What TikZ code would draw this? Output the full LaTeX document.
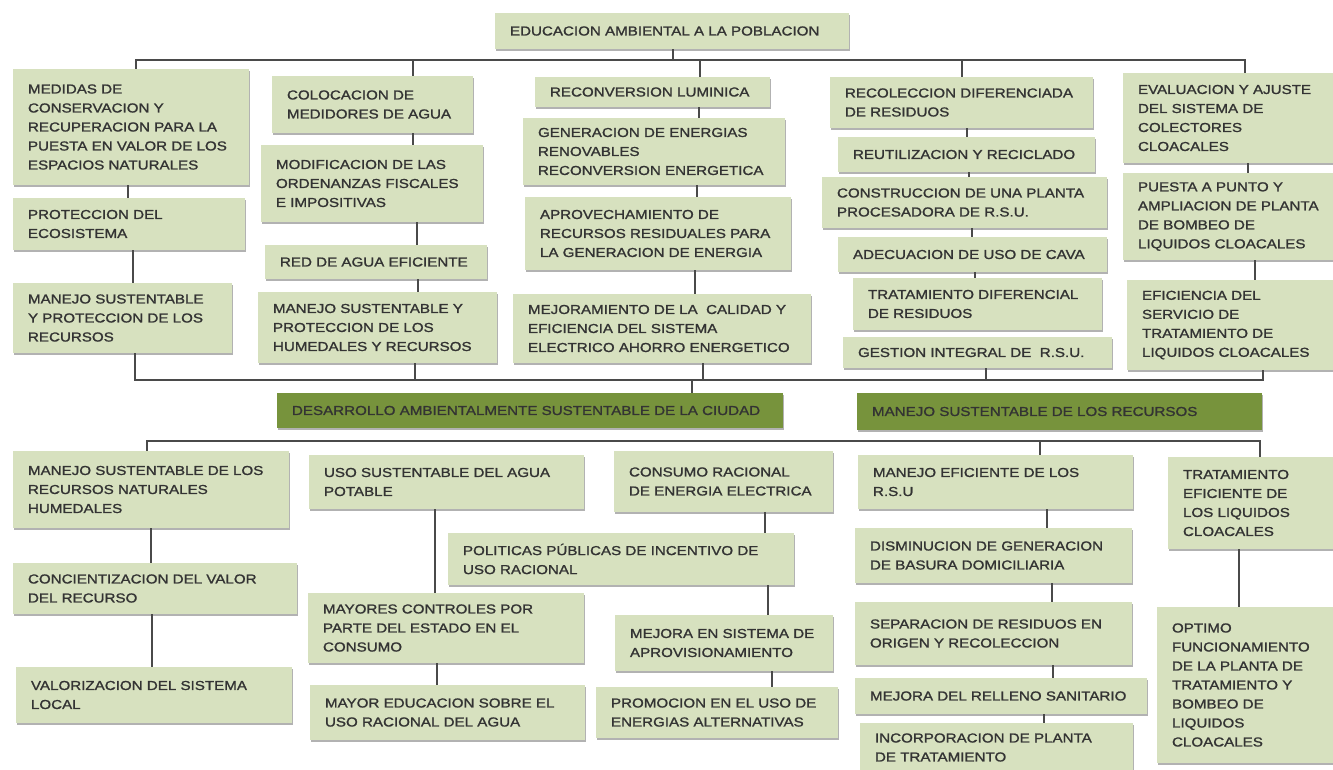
\documentclass[tikz,border=0pt]{standalone}
\usepackage{fontspec}
\setmainfont{Liberation Sans}[FakeStretch=1.165,FakeBold=1.3]
\usetikzlibrary{fit,shadows}
\definecolor{boxg}{HTML}{D7E1BF}
\definecolor{darkg}{HTML}{77933C}
\definecolor{txtc}{HTML}{333333}
\definecolor{linec}{HTML}{4A4A4A}
\tikzset{
  shad/.style={drop shadow={shadow xshift=0.8pt, shadow yshift=-1.6pt, fill=black!55, opacity=0.55}},
  lbox/.style={fill=boxg, draw=none, inner sep=0pt, shad},
  dbox/.style={fill=darkg, draw=none, inner sep=0pt, shad},
  txt/.style={anchor=west, inner sep=0pt, align=left, text=txtc, font=\fontsize{9.75}{14.25}\selectfont},
  conn/.style={draw=linec, line width=1.6pt},
}
\newcommand\gbx[7]{\node[#2, fit={(#3,#4) (#5,#6)}] (#1) {};
  \node[txt] at ([xshift=11.25pt]#1.west) {#7};}
\begin{document}
\begin{tikzpicture}[x=0.75pt,y=-0.75pt]
\useasboundingbox (0,0) rectangle (1333,769);
\clip (0,0) rectangle (1333,769);
\fill[white] (0,0) rectangle (1333,769);
% ---------- upper part
\gbx{top}{lbox}{495}{13}{849}{49}{EDUCACION AMBIENTAL A LA POBLACION}
\gbx{c1a}{lbox}{13}{69}{249}{185}{MEDIDAS DE\\CONSERVACION Y\\RECUPERACION PARA LA\\PUESTA EN VALOR DE LOS\\ESPACIOS NATURALES}
\gbx{c1b}{lbox}{13}{198}{245}{250}{PROTECCION DEL\\ECOSISTEMA}
\gbx{c1c}{lbox}{13}{283}{232}{353}{MANEJO SUSTENTABLE\\Y PROTECCION DE LOS\\RECURSOS}
\gbx{c2a}{lbox}{272}{76}{473}{133}{COLOCACION DE\\MEDIDORES DE AGUA}
\gbx{c2b}{lbox}{261}{145}{483}{222}{MODIFICACION DE LAS\\ORDENANZAS FISCALES\\E IMPOSITIVAS}
\gbx{c2c}{lbox}{265}{245}{487}{279}{RED DE AGUA EFICIENTE}
\gbx{c2d}{lbox}{258}{292}{497}{363}{MANEJO SUSTENTABLE Y\\PROTECCION DE LOS\\HUMEDALES Y RECURSOS}
\gbx{c3a}{lbox}{535}{77}{770}{107}{RECONVERSION LUMINICA}
\gbx{c3b}{lbox}{523}{118}{785}{185}{GENERACION DE ENERGIAS\\RENOVABLES\\RECONVERSION ENERGETICA}
\gbx{c3c}{lbox}{525}{197}{791}{270}{APROVECHAMIENTO DE\\RECURSOS RESIDUALES PARA\\LA GENERACION DE ENERGIA}
\gbx{c3d}{lbox}{513}{294}{811}{363}{MEJORAMIENTO DE LA\ \ CALIDAD Y\\EFICIENCIA DEL SISTEMA\\ELECTRICO AHORRO ENERGETICO}
\gbx{c4a}{lbox}{830}{77}{1093}{128}{RECOLECCION DIFERENCIADA\\DE RESIDUOS}
\gbx{c4b}{lbox}{838}{137}{1095}{172}{REUTILIZACION Y RECICLADO}
\gbx{c4c}{lbox}{822}{177}{1107}{228}{CONSTRUCCION DE UNA PLANTA\\PROCESADORA DE R.S.U.}
\gbx{c4d}{lbox}{838}{237}{1107}{272}{ADECUACION DE USO DE CAVA}
\gbx{c4e}{lbox}{853}{278}{1102}{330}{TRATAMIENTO DIFERENCIAL\\DE RESIDUOS}
\gbx{c4f}{lbox}{843}{337}{1112}{368}{GESTION INTEGRAL DE\ \ R.S.U.}
\gbx{c5a}{lbox}{1123}{73}{1333}{163}{EVALUACION Y AJUSTE\\DEL SISTEMA DE\\COLECTORES\\CLOACALES}
\gbx{c5b}{lbox}{1123}{173}{1333}{260}{PUESTA A PUNTO Y\\AMPLIACION DE PLANTA\\DE BOMBEO DE\\LIQUIDOS CLOACALES}
\gbx{c5c}{lbox}{1127}{280}{1333}{370}{EFICIENCIA DEL\\SERVICIO DE\\TRATAMIENTO DE\\LIQUIDOS CLOACALES}
% ---------- green bars
\gbx{g1}{dbox}{277}{393}{783}{428}{DESARROLLO AMBIENTALMENTE SUSTENTABLE DE LA CIUDAD}
\gbx{g2}{dbox}{857}{393}{1262}{430}{MANEJO SUSTENTABLE DE LOS RECURSOS}
% ---------- lower part
\gbx{d1a}{lbox}{13}{451}{289}{528}{MANEJO SUSTENTABLE DE LOS\\RECURSOS NATURALES\\HUMEDALES}
\gbx{d1b}{lbox}{13}{563}{297}{614}{CONCIENTIZACION DEL VALOR\\DEL RECURSO}
\gbx{d1c}{lbox}{16}{667}{292}{723}{VALORIZACION DEL SISTEMA\\LOCAL}
\gbx{d2a}{lbox}{309}{455}{584}{509}{USO SUSTENTABLE DEL AGUA\\POTABLE}
\gbx{d2b}{lbox}{308}{593}{584}{663}{MAYORES CONTROLES POR\\PARTE DEL ESTADO EN EL\\CONSUMO}
\gbx{d2c}{lbox}{310}{685}{585}{740}{MAYOR EDUCACION SOBRE EL\\USO RACIONAL DEL AGUA}
\gbx{d3a}{lbox}{614}{451}{833}{512}{CONSUMO RACIONAL\\DE ENERGIA ELECTRICA}
\gbx{d3b}{lbox}{448}{533}{794}{585}{POLITICAS PÚBLICAS DE INCENTIVO DE\\USO RACIONAL}
\gbx{d3c}{lbox}{615}{615}{833}{671}{MEJORA EN SISTEMA DE\\APROVISIONAMIENTO}
\gbx{d3d}{lbox}{596}{687}{838}{738}{PROMOCION EN EL USO DE\\ENERGIAS ALTERNATIVAS}
\gbx{d4a}{lbox}{858}{455}{1133}{509}{MANEJO EFICIENTE DE LOS\\R.S.U}
\gbx{d4b}{lbox}{855}{528}{1132}{583}{DISMINUCION DE GENERACION\\DE BASURA DOMICILIARIA}
\gbx{d4c}{lbox}{855}{602}{1132}{665}{SEPARACION DE RESIDUOS EN\\ORIGEN Y RECOLECCION}
\gbx{d4d}{lbox}{855}{678}{1147}{714}{MEJORA DEL RELLENO SANITARIO}
\gbx{d4e}{lbox}{860}{723}{1133}{772}{INCORPORACION DE PLANTA\\DE TRATAMIENTO}
\gbx{d5a}{lbox}{1168}{457}{1333}{549}{TRATAMIENTO\\EFICIENTE DE\\LOS LIQUIDOS\\CLOACALES}
\gbx{d5b}{lbox}{1157}{607}{1333}{763}{OPTIMO\\FUNCIONAMIENTO\\DE LA PLANTA DE\\TRATAMIENTO Y\\BOMBEO DE\\LIQUIDOS\\CLOACALES}
% ---------- connectors upper
\draw[conn] (top.south -| 673,0) -- (673,60);
\draw[conn] (c1a.north -| 136,0) -- (136,60) -- (1245,60) -- (c5a.north -| 1245,0);
\draw[conn] (413,60) -- (c2a.north -| 413,0);
\draw[conn] (700,60) -- (c3a.north -| 700,0);
\draw[conn] (962,60) -- (c4a.north -| 962,0);
\draw[conn] (c1a.south -| 128,0) -- (c1b.north -| 128,0);
\draw[conn] (c1b.south -| 133,0) -- (c1c.north -| 133,0);
\draw[conn] (c2a.south -| 413,0) -- (c2b.north -| 413,0);
\draw[conn] (c2b.south -| 417,0) -- (c2c.north -| 417,0);
\draw[conn] (c2c.south -| 418,0) -- (c2d.north -| 418,0);
\draw[conn] (c3a.south -| 699,0) -- (c3b.north -| 699,0);
\draw[conn] (c3b.south -| 697,0) -- (c3c.north -| 697,0);
\draw[conn] (c3c.south -| 695,0) -- (c3d.north -| 695,0);
\draw[conn] (c4a.south -| 967,0) -- (c4b.north -| 967,0);
\draw[conn] (c4b.south -| 969,0) -- (c4c.north -| 969,0);
\draw[conn] (c4c.south -| 972,0) -- (c4d.north -| 972,0);
\draw[conn] (c4d.south -| 975,0) -- (c4e.north -| 975,0);
\draw[conn] (c5a.south -| 1248,0) -- (c5b.north -| 1248,0);
\draw[conn] (c5b.south -| 1255,0) -- (c5c.north -| 1255,0);
\draw[conn] (c1c.south -| 135,0) -- (135,380) -- (1263,380) -- (c5c.south -| 1263,0);
\draw[conn] (c2d.south -| 415,0) -- (415,380);
\draw[conn] (c3d.south -| 703,0) -- (703,380);
\draw[conn] (c4f.south -| 986,0) -- (986,380);
\draw[conn] (692,380) -- (g1.north -| 692,0);
% ---------- connectors lower
\draw[conn] (d1a.north -| 147,0) -- (147,441) -- (1260,441) -- (d5a.north -| 1260,0);
\draw[conn] (1040,441) -- (d4a.north -| 1040,0);
\draw[conn] (d1a.south -| 151,0) -- (d1b.north -| 151,0);
\draw[conn] (d1b.south -| 152,0) -- (d1c.north -| 152,0);
\draw[conn] (d2a.south -| 435,0) -- (d2b.north -| 435,0);
\draw[conn] (d2b.south -| 437,0) -- (d2c.north -| 437,0);
\draw[conn] (d3a.south -| 765,0) -- (d3b.north -| 765,0);
\draw[conn] (d3b.south -| 768,0) -- (d3c.north -| 768,0);
\draw[conn] (d3c.south -| 772,0) -- (d3d.north -| 772,0);
\draw[conn] (d4a.south -| 1047,0) -- (d4b.north -| 1047,0);
\draw[conn] (d4b.south -| 1052,0) -- (d4c.north -| 1052,0);
\draw[conn] (d4c.south -| 1053,0) -- (d4d.north -| 1053,0);
\draw[conn] (d4d.south -| 1044,0) -- (d4e.north -| 1044,0);
\draw[conn] (d5a.south -| 1239,0) -- (d5b.north -| 1239,0);
\end{tikzpicture}
\end{document}
